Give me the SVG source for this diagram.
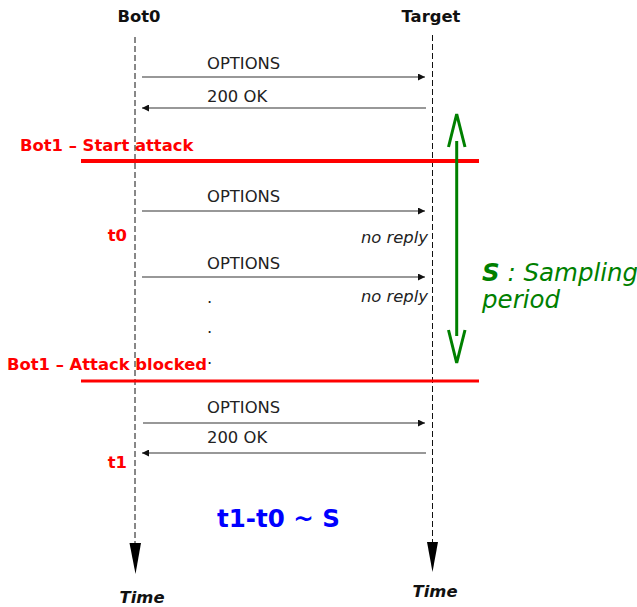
<svg xmlns="http://www.w3.org/2000/svg" width="637" height="607" viewBox="0 0 637 607">
<defs>
<style>
text{font-family:"DejaVu Sans","Liberation Sans",sans-serif;font-size:16.4px}
.hdr{font-weight:bold;fill:#111;text-anchor:middle}
.msg{fill:#222}
.nr{font-style:italic;fill:#222;text-anchor:end}
.red{font-weight:bold;fill:#ff0000}
.time{font-weight:bold;font-style:italic;fill:#111;text-anchor:middle}
.big{font-size:24.5px}
.gt{fill:#008000;font-style:italic}
.blue{fill:#0000ff;font-weight:bold}
.life{stroke:#111;stroke-width:1;stroke-dasharray:6,3;fill:none}
.m{stroke:#333;stroke-width:1.2;fill:none}
.bar{stroke:#ff0000;fill:none}
.g{stroke:#008000;stroke-width:3;fill:none}
</style>
<marker id="ah" viewBox="0 0 10 10" refX="10" refY="5" markerWidth="8" markerHeight="7" markerUnits="userSpaceOnUse" orient="auto">
<path d="M0,0 L10,5 L0,10 z" fill="#111"/>
</marker>
</defs>
<rect width="637" height="607" fill="#fff"/>
<g id="bot0">
<text class="hdr" x="139" y="22">Bot0</text>
<line class="life" x1="135" y1="37" x2="135" y2="545"/>
<polygon points="129.5,543 141,543 135.5,574" fill="#000"/>
<text class="time" x="142" y="603">Time</text>
</g>
<g id="target">
<text class="hdr" x="431" y="22">Target</text>
<line class="life" x1="432.5" y1="35" x2="432.5" y2="544"/>
<polygon points="427,542 438,542 432.5,572" fill="#000"/>
<text class="time" x="435" y="597">Time</text>
</g>
<g id="connectors">
<line class="m" x1="142" y1="77" x2="425" y2="77" marker-end="url(#ah)"/>
<line class="m" x1="426" y1="108" x2="142" y2="108" marker-end="url(#ah)"/>
<line class="m" x1="142" y1="211" x2="425" y2="211" marker-end="url(#ah)"/>
<line class="m" x1="142" y1="277" x2="425" y2="277" marker-end="url(#ah)"/>
<line class="m" x1="143" y1="423" x2="425" y2="423" marker-end="url(#ah)"/>
<line class="m" x1="426" y1="453" x2="142" y2="453" marker-end="url(#ah)"/>
</g>
<g id="labels">
<text class="msg" x="207" y="69">OPTIONS</text>
<text class="msg" x="207" y="102">200 OK</text>
<text class="msg" x="207" y="202">OPTIONS</text>
<text class="nr" x="428" y="243">no reply</text>
<text class="msg" x="207" y="269">OPTIONS</text>
<text class="nr" x="428" y="302">no reply</text>
<text class="msg" x="207" y="303">.</text>
<text class="msg" x="207" y="333">.</text>
<text class="msg" x="207" y="364">.</text>
<text class="msg" x="207" y="413">OPTIONS</text>
<text class="msg" x="207" y="443">200 OK</text>
</g>
<g id="start-attack">
<line class="bar" stroke-width="4" x1="81" y1="161" x2="479" y2="161"/>
<text class="red" x="20" y="151">Bot1 – Start attack</text>
</g>
<g id="attack-blocked">
<line class="bar" stroke-width="3" x1="81" y1="381" x2="479" y2="381"/>
<text class="red" x="7" y="370">Bot1 – Attack blocked</text>
</g>
<g id="times">
<text class="red" x="127" y="241" text-anchor="end">t0</text>
<text class="red" x="127" y="468" text-anchor="end">t1</text>
</g>
<g id="sampling">
<line class="g" stroke-width="4" x1="456.7" y1="141" x2="456.7" y2="336"/>
<polyline class="g" points="448.5,147 456.7,114 465,147"/>
<polyline class="g" points="448.5,330 456.7,363 465,330"/>
<text class="gt big" x="482" y="281"><tspan font-weight="bold">S</tspan> : Sampling</text>
<text class="gt big" x="482" y="308">period</text>
</g>
<g id="formula">
<text class="blue big" x="217" y="527">t1-t0 ~ S</text>
</g>
</svg>
